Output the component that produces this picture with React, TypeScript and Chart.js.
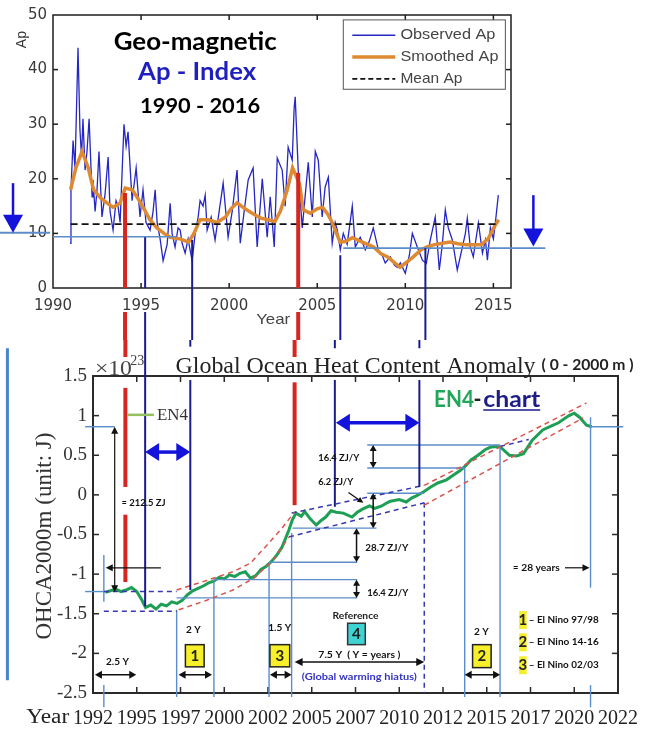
import React, { useEffect, useRef } from "react";
import { Chart, registerables } from "chart.js";
Chart.register(...registerables);

// ---------------- Top chart: geomagnetic Ap index ----------------
const AP_YEARS = [
  1990.97, 1991.02, 1991.14, 1991.25, 1991.42, 1991.53, 1991.62, 1991.7, 1991.82, 1991.93,
  1992.05, 1992.22, 1992.27, 1992.39, 1992.5, 1992.61, 1992.78, 1992.95,
  1993.13, 1993.24, 1993.41, 1993.58, 1993.69, 1993.81, 1993.92,
  1994.03, 1994.15, 1994.26, 1994.49, 1994.72, 1994.94,
  1995.11, 1995.28, 1995.51, 1995.68, 1995.8, 1995.91,
  1996.08, 1996.25, 1996.48, 1996.65, 1996.76, 1996.93,
  1997.1, 1997.22, 1997.33, 1997.5, 1997.67, 1997.78, 1997.9,
  1998.07, 1998.24, 1998.35, 1998.52, 1998.64, 1998.75, 1998.98,
  1999.2, 1999.43, 1999.66, 1999.94,
  2000.17, 2000.45, 2000.63, 2000.85,
  2001.08, 2001.36, 2001.59, 2001.88,
  2002.16, 2002.33, 2002.56, 2002.73,
  2003.01, 2003.18, 2003.35, 2003.58, 2003.69, 2003.75, 2003.92,
  2004.15, 2004.32, 2004.49, 2004.72, 2004.89,
  2005.06, 2005.28, 2005.45, 2005.63, 2005.85,
  2006.02, 2006.14, 2006.31, 2006.48, 2006.7, 2006.99,
  2007.16, 2007.44, 2007.73, 2007.95,
  2008.18, 2008.47, 2008.69, 2008.86,
  2009.15, 2009.38, 2009.55, 2009.72,
  2010.0, 2010.23, 2010.4, 2010.68, 2010.97,
  2011.19, 2011.42, 2011.7, 2011.93,
  2012.1, 2012.27, 2012.44, 2012.67, 2012.95,
  2013.24, 2013.41, 2013.52, 2013.69, 2013.86,
  2014.15, 2014.38, 2014.55, 2014.66, 2014.83,
  2015.0, 2015.11, 2015.28,
];
const AP_VALUES = [
  8.2, 18, 27, 22, 44, 29, 24, 31, 21.6, 25,
  31, 16.7, 19.8, 14, 18, 25, 13, 17,
  24, 14, 10.6, 16, 15, 12, 21,
  30, 26, 28.6, 16, 22, 13,
  18, 12, 10.6, 14, 18, 12,
  9, 5, 8, 15.5, 10, 7.5,
  11, 10.6, 8.2, 6.4, 9, 7, 5,
  10, 13, 16, 15, 17, 10.6, 13,
  8.8, 14, 19.2, 9.3,
  14, 21.6, 8.2, 14,
  19.8, 22, 7.5, 20,
  9.3, 16.7, 7.5, 23.8,
  21.6, 15, 25.8, 23.4, 33, 35, 21.6,
  11, 17, 23, 13, 25,
  23.4, 13, 18.5, 20.3, 8.2,
  12, 10.6, 7, 10, 8, 15,
  7.5, 9.3, 7, 8.5,
  11, 7, 6, 4.6,
  5.7, 4.2, 3.8, 4.6,
  2.7, 6, 10, 7.5, 5.1,
  4.5, 8.8, 13, 3.3,
  8, 14.3, 11, 8.8, 3.3,
  7.5, 10, 12.8, 7.5, 5.7,
  11.9, 6.4, 8.8, 5.1, 11,
  9, 11.9, 17,
];
const SMOOTH_YEARS = [
  1991.0, 1991.3, 1991.65, 1992.0, 1992.3, 1992.7, 1993.1, 1993.4, 1993.8, 1994.1,
  1994.5, 1994.8, 1995.2, 1995.5, 1995.9, 1996.3, 1996.65, 1997.2, 1997.7, 1998.0,
  1998.35, 1998.8, 1999.3, 1999.8, 2000.1, 2000.45, 2000.9, 2001.4, 2001.8, 2002.2,
  2002.6, 2002.9, 2003.3, 2003.6, 2004.0, 2004.2, 2004.6, 2005.0, 2005.3, 2005.6,
  2005.85, 2006.3, 2006.6, 2007.0, 2007.5, 2008.2, 2008.6, 2009.0, 2009.4, 2009.7,
  2010.1, 2010.45, 2010.9, 2011.3, 2011.6, 2012.1, 2012.55, 2013.0, 2013.5, 2014.0,
  2014.3, 2014.7, 2015.1, 2015.3,
];
const SMOOTH_VALUES = [
  18, 22, 25, 22, 18, 16.5, 15.5, 14.8, 15.5, 18.3,
  18, 16.5, 14.3, 12.5, 11, 10, 9.3, 9, 8.4, 10,
  12.5, 12.5, 12, 13, 14.5, 15.6, 14.5, 13.5, 12.8, 12.5,
  12.2, 14, 18, 22, 19, 14.3, 13.7, 14.5, 14.8, 13.5,
  12, 8.4, 8.5, 9.2, 8.5, 7.5, 6.3, 5.7, 4.6, 3.8,
  4.8, 5.7, 7, 7.6, 7.9, 8.2, 8.4, 8.1, 7.9, 7.9,
  7.9, 9, 11.5, 12.5,
];
const MEAN_AP = 11.7;
const MEAN_SPAN = [1991.0, 2015.3];
const AP_X_TICKS = [1990, 1995, 2000, 2005, 2010, 2015];
const AP_Y_TICKS = [0, 10, 20, 30, 40, 50];

// ---------------- Bottom chart: EN4 ocean heat content ----------------
const EN4_YEARS = [
  1992.7, 1993.0, 1993.3, 1993.6, 1993.9, 1994.2, 1994.5, 1994.8, 1995.0, 1995.3,
  1995.6, 1995.9, 1996.2, 1996.5, 1996.8, 1997.1, 1997.4, 1997.7, 1998.0, 1998.3,
  1998.6, 1998.9, 1999.2, 1999.5, 1999.8, 2000.1, 2000.4, 2000.7, 2001.0, 2001.3,
  2001.6, 2001.9, 2002.2, 2002.5, 2002.8, 2003.0, 2003.2, 2003.4, 2003.6, 2003.9,
  2004.1, 2004.4, 2004.75, 2005.0, 2005.3, 2005.6, 2005.9, 2006.3, 2006.8, 2007.1,
  2007.4, 2007.8, 2008.1, 2008.5, 2008.8, 2009.0, 2009.5, 2009.9, 2010.2, 2010.5,
  2010.9, 2011.3, 2011.7, 2012.2, 2012.6, 2013.0, 2013.3, 2013.6, 2014.0, 2014.4,
  2014.7, 2015.0, 2015.3, 2015.8, 2016.2, 2016.6, 2017.1, 2017.7, 2018.2, 2018.6,
  2019.2, 2019.5, 2019.8, 2020.2, 2020.5,
];
const EN4_VALUES = [
  -1.23, -1.21, -1.19, -1.22, -1.2, -1.17, -1.22, -1.33, -1.42, -1.39,
  -1.44, -1.38, -1.4, -1.35, -1.37, -1.33, -1.26, -1.21, -1.18, -1.15,
  -1.11, -1.09, -1.04, -1.06, -1.01, -1.03, -0.99, -0.97, -1.05, -1.02,
  -0.94, -0.9, -0.84, -0.76, -0.66, -0.55, -0.44, -0.31, -0.23, -0.27,
  -0.21, -0.3, -0.38, -0.33, -0.28, -0.2, -0.22, -0.23, -0.28, -0.22,
  -0.18, -0.14, -0.17, -0.14, -0.1, -0.08, -0.06, -0.09, -0.04, -0.01,
  0.04, 0.1, 0.15, 0.19, 0.25, 0.31, 0.37, 0.44, 0.5, 0.57,
  0.6, 0.61, 0.6, 0.5, 0.49, 0.52, 0.69, 0.82, 0.87, 0.91,
  1.0, 1.03, 0.98, 0.88, 0.86,
];
const OHC_X_TICKS = [1992, 1994.5, 1997, 1999.5, 2002, 2004.5, 2007, 2009.5, 2012, 2014.5, 2017, 2019.5, 2022];
const OHC_X_LABELS = ["1992", "1995", "1997", "2000", "2002", "2005", "2007", "2010", "2012", "2015", "2017", "2020", "2022"];
const OHC_Y_TICKS = [1.5, 1, 0.5, 0, -0.5, -1, -1.5, -2, -2.5];

// ---------------- drawing helpers ----------------
type C = CanvasRenderingContext2D;

function path(ctx: C, pts: number[][], color: string, width: number, dash: number[] = []) {
  ctx.save();
  ctx.beginPath();
  ctx.strokeStyle = color;
  ctx.lineWidth = width;
  ctx.setLineDash(dash);
  pts.forEach((p, i) => (i ? ctx.lineTo(p[0], p[1]) : ctx.moveTo(p[0], p[1])));
  ctx.stroke();
  ctx.restore();
}
function head(ctx: C, x: number, y: number, ux: number, uy: number, len: number, half: number, color: string) {
  const bx = x - ux * len, by = y - uy * len;
  const px = -uy, py = ux;
  ctx.save();
  ctx.fillStyle = color;
  ctx.beginPath();
  ctx.moveTo(x, y);
  ctx.lineTo(bx + px * half, by + py * half);
  ctx.lineTo(bx - px * half, by - py * half);
  ctx.closePath();
  ctx.fill();
  ctx.restore();
}
function arrow(ctx: C, x1: number, y1: number, x2: number, y2: number, color: string, width: number, len: number, half: number, both: boolean) {
  const d = Math.hypot(x2 - x1, y2 - y1) || 1;
  const ux = (x2 - x1) / d, uy = (y2 - y1) / d;
  const sx = both ? x1 + ux * len * 0.7 : x1, sy = both ? y1 + uy * len * 0.7 : y1;
  path(ctx, [[sx, sy], [x2 - ux * len * 0.7, y2 - uy * len * 0.7]], color, width);
  head(ctx, x2, y2, ux, uy, len, half, color);
  if (both) head(ctx, x1, y1, -ux, -uy, len, half, color);
}
function text(ctx: C, s: string, x: number, y: number, font: string, color: string,
  align: CanvasTextAlign = "center", baseline: CanvasTextBaseline = "middle", width = 0, rot = 0) {
  ctx.save();
  ctx.font = font;
  ctx.fillStyle = color;
  ctx.textAlign = align;
  ctx.textBaseline = baseline;
  ctx.translate(x, y);
  if (rot) ctx.rotate(rot);
  if (width) {
    const m = ctx.measureText(s).width;
    if (m > 0) ctx.scale(width / m, 1);
  }
  ctx.fillText(s, 0, 0);
  ctx.restore();
}
function box(ctx: C, x1: number, y1: number, x2: number, y2: number, fill: string, stroke: string, lw: number) {
  ctx.save();
  ctx.fillStyle = fill;
  ctx.fillRect(x1, y1, x2 - x1, y2 - y1);
  if (stroke) {
    ctx.strokeStyle = stroke;
    ctx.lineWidth = lw;
    ctx.strokeRect(x1, y1, x2 - x1, y2 - y1);
  }
  ctx.restore();
}

const RED = "#d5261f";
const NAVY = "#1b1b8e";
const LB = "#5b8dca";
const BRIGHT = "#1313dc";
const SMALL = "bold 10px Lato";

// ---------------- top decorations ----------------
const apDecor = {
  id: "apDecor",
  afterDraw(chart: any) {
    const ctx: C = chart.ctx;
    const a = chart.chartArea;
    const sx = chart.scales.x, sy = chart.scales.y;
    const X = (v: number) => sx.getPixelForValue(v);
    const Y = (v: number) => sy.getPixelForValue(v);
    const H = chart.height;

    // frame & inward ticks
    ctx.save();
    ctx.strokeStyle = "#1e1e1e";
    ctx.lineWidth = 1.5;
    ctx.strokeRect(a.left, a.top, a.right - a.left, a.bottom - a.top);
    ctx.restore();
    AP_X_TICKS.forEach((v) => {
      if (v <= 1990) return;
      const x = X(v);
      path(ctx, [[x, a.bottom], [x, a.bottom - 5]], "#1e1e1e", 1.5);
      path(ctx, [[x, a.top], [x, a.top + 5]], "#1e1e1e", 1.5);
    });
    AP_Y_TICKS.forEach((v) => {
      if (v <= 0 || v >= 50) return;
      const y = Y(v);
      path(ctx, [[a.left, y], [a.left + 5, y]], "#1e1e1e", 1.5);
      path(ctx, [[a.right, y], [a.right - 5, y]], "#1e1e1e", 1.5);
    });

    // light blue reference lines
    path(ctx, [[X(1986.99), Y(10.1)], [X(1989.83), Y(10.1)]], LB, 2);
    path(ctx, [[X(1990), Y(9.4)], [X(1997.0), Y(9.4)]], LB, 1.6);
    path(ctx, [[X(2006.48), Y(7.3)], [X(2017.95), Y(7.3)]], LB, 1.6);

    // blue arrows outside the axes
    arrow(ctx, X(1987.73), Y(19.2), X(1987.73), Y(10.1), BRIGHT, 2.5, 18, 10, false);
    arrow(ctx, X(2017.27), Y(17.0), X(2017.27), Y(7.6), BRIGHT, 2.5, 18, 10, false);

    // vertical connectors
    const gap = a.bottom + 24;
    path(ctx, [[X(1994.09), Y(17.4)], [X(1994.09), a.bottom]], RED, 4);
    path(ctx, [[X(1994.09), gap], [X(1994.09), H]], RED, 4);
    path(ctx, [[X(1995.23), Y(9.3)], [X(1995.23), a.bottom]], NAVY, 2);
    path(ctx, [[X(1995.23), gap], [X(1995.23), H]], NAVY, 2);
    path(ctx, [[X(1997.9), Y(8.8)], [X(1997.9), H]], NAVY, 2);
    path(ctx, [[X(2003.92), Y(21.1)], [X(2003.92), a.bottom]], RED, 4);
    path(ctx, [[X(2003.92), gap], [X(2003.92), H]], RED, 4);
    path(ctx, [[X(2006.31), Y(6.0)], [X(2006.31), H]], NAVY, 2);
    path(ctx, [[X(2011.14), Y(7.3)], [X(2011.14), H]], NAVY, 2);

    // legend
    box(ctx, X(2006.48), Y(49.1), X(2015.68), Y(36.4), "#ffffff", "#555555", 1);
    path(ctx, [[X(2006.99), Y(46.3)], [X(2009.43), Y(46.3)]], "#2626c4", 1.6);
    path(ctx, [[X(2006.99), Y(42.3)], [X(2009.43), Y(42.3)]], "#de8a32", 3.5);
    path(ctx, [[X(2006.99), Y(38.3)], [X(2009.43), Y(38.3)]], "#111111", 1.6, [5, 3]);
    const lf = '15px "Liberation Sans"';
    text(ctx, "Observed Ap", X(2009.72), Y(46.3), lf, "#444", "left", "middle", 95);
    text(ctx, "Smoothed Ap", X(2009.72), Y(42.3), lf, "#444", "left", "middle", 98);
    text(ctx, "Mean Ap", X(2009.72), Y(38.3), lf, "#444", "left", "middle", 62);

    // titles
    text(ctx, "Geo-magnetic", X(1998.07), Y(45.05), "bold 24px Lato", "#000", "center", "middle", 163);
    text(ctx, "Ap - Index", X(1998.18), Y(39.6), "bold 24px Lato", "#1f1fbf", "center", "middle", 118);
    text(ctx, "1990 - 2016", X(1998.35), Y(33.3), "bold 21px Lato", "#000", "center", "middle", 120);

    // axis titles
    text(ctx, "Ap", a.left - 31, Y(45.5), '14px "Liberation Sans"', "#333", "center", "middle", 0, -Math.PI / 2);
    text(ctx, "Year", X(2002.5), a.bottom + 32, '15px "Liberation Sans"', "#444", "center", "middle", 34);
  },
};

// ---------------- bottom decorations ----------------
const ohcDecor = {
  id: "ohcDecor",
  afterDraw(chart: any) {
    const ctx: C = chart.ctx;
    const a = chart.chartArea;
    const sx = chart.scales.x, sy = chart.scales.y;
    const X = (v: number) => sx.getPixelForValue(v);
    const Y = (v: number) => sy.getPixelForValue(v);
    const P = (x: number, y: number) => [X(x), Y(y)];

    // frame & inward ticks
    ctx.save();
    ctx.strokeStyle = "#2a2a2a";
    ctx.lineWidth = 2;
    ctx.strokeRect(a.left, a.top, a.right - a.left, a.bottom - a.top);
    ctx.restore();
    OHC_X_TICKS.forEach((v) => {
      if (v <= 1992 || v >= 2022) return;
      const x = X(v);
      path(ctx, [[x, a.bottom], [x, a.bottom - 6]], "#2a2a2a", 1.5);
      path(ctx, [[x, a.top], [x, a.top + 6]], "#2a2a2a", 1.5);
    });
    OHC_Y_TICKS.forEach((v) => {
      if (v >= 1.5 || v <= -2.5) return;
      const y = Y(v);
      path(ctx, [[a.left, y], [a.left + 6, y]], "#2a2a2a", 1.5);
      path(ctx, [[a.right, y], [a.right - 6, y]], "#2a2a2a", 1.5);
    });

    // left steel-blue bar
    path(ctx, [P(1987.11, 1.85), P(1987.11, -2.34)], "#4a86c8", 3);

    // light blue helper lines
    const lbl: number[][][] = [
      [[1991.55, 0.86], [1993.24, 0.86]],
      [[2020.37, 0.86], [2022.3, 0.86]],
      [[2020.43, 0.98], [2020.43, -1.17]],
      [[2020.43, -2.4], [2020.43, -2.68]],
      [[1992.62, -0.76], [1992.62, -1.35]],
      [[1992.62, -2.4], [1992.62, -2.68]],
      [[1991.55, -1.22], [1992.62, -1.22]],
      [[1996.78, -1.45], [1996.78, -2.55]],
      [[1998.91, -1.07], [1998.91, -2.55]],
      [[2002.06, -0.86], [2002.06, -2.55]],
      [[2003.35, -0.48], [2003.35, -2.55]],
      [[2013.24, 0.34], [2013.24, -2.55]],
      [[2015.26, 0.63], [2015.26, -2.55]],
      [[1996.78, -1.3], [2007.1, -1.3]],
      [[1998.91, -1.07], [2007.1, -1.07]],
      [[2002.06, -0.85], [2007.1, -0.85]],
      [[2003.4, -0.42], [2008.2, -0.42]],
      [[2007.67, 0.02], [2010.93, 0.02]],
      [[2007.67, 0.34], [2013.24, 0.34]],
      [[2007.67, 0.63], [2015.26, 0.63]],
    ];
    lbl.forEach((s) => path(ctx, s.map((p) => P(p[0], p[1])), LB, 1.4));

    // dashed channels
    const BD = "#3838b0", RD = "#d9534f";
    const dash = [5, 4];
    path(ctx, [P(1992.62, -1.22), P(1996.78, -1.22)], BD, 1.5, dash);
    path(ctx, [P(1992.62, -1.47), P(1996.78, -1.47)], BD, 1.5, dash);
    path(ctx, [P(2003.35, -0.23), P(2010.93, 0.12)], BD, 1.5, dash);
    path(ctx, [P(2003.2, -0.53), P(2010.93, -0.1)], BD, 1.5, dash);
    path(ctx, [P(2010.93, -0.1), P(2010.93, -2.5)], BD, 1.5, dash);
    path(ctx, [P(2015.26, 0.61), P(2016.9, 0.7)], BD, 1.5, dash);
    path(ctx, [[1996.78, -1.2], [1998.5, -1.08], [2000, -0.97], [2001, -0.86], [2002, -0.62], [2002.8, -0.42], [2003.5, -0.22]].map((p) => P(p[0], p[1])), RD, 1.5, dash);
    path(ctx, [[1996.9, -1.45], [1998.5, -1.33], [2000, -1.2], [2001.2, -1.05], [2002.3, -0.82], [2003.2, -0.53]].map((p) => P(p[0], p[1])), RD, 1.5, dash);
    path(ctx, [P(2010.93, 0.12), P(2020.2, 1.16)], RD, 1.5, dash);
    path(ctx, [P(2010.93, -0.13), P(2020.0, 0.97)], RD, 1.5, dash);

    // vertical connectors from the top chart
    const vseg = (x: number, segs: number[][], color: string, w: number) =>
      segs.forEach((s) => path(ctx, [P(x, s[0]), P(x, s[1])], color, w));
    vseg(1993.85, [[1.96, 1.74], [1.35, 0.1], [-0.25, -1.1]], RED, 4);
    vseg(2003.52, [[1.96, 1.74], [1.42, -0.13]], RED, 4);
    vseg(1994.98, [[1.96, -1.41]], NAVY, 2);
    vseg(1997.56, [[1.96, 1.87], [1.45, -1.2]], NAVY, 2);
    vseg(2005.82, [[1.96, 1.85], [1.45, -0.15]], NAVY, 2);
    vseg(2010.65, [[1.96, 1.85], [1.45, 0.1]], NAVY, 2);

    // big blue double arrows
    arrow(ctx, X(1994.98), Y(0.54), X(1997.56), Y(0.54), BRIGHT, 3.5, 14, 9, true);
    arrow(ctx, X(2005.88), Y(0.91), X(2010.65), Y(0.91), BRIGHT, 3.5, 14, 9, true);

    // black measurement arrows
    const K = "#111";
    arrow(ctx, X(1993.24), Y(0.86), X(1993.24), Y(-1.23), K, 1.2, 7, 3.5, true);
    arrow(ctx, X(1995.88), Y(-0.92), X(1992.73), Y(-0.92), K, 1.2, 7, 3.5, false);
    arrow(ctx, X(2008.01), Y(0.63), X(2008.01), Y(0.34), K, 1.5, 6, 3.5, true);
    arrow(ctx, X(2008.01), Y(0.02), X(2008.01), Y(-0.42), K, 1.5, 6, 3.5, true);
    arrow(ctx, X(2007.06), Y(-0.42), X(2007.06), Y(-0.85), K, 1.5, 6, 3.5, true);
    arrow(ctx, X(2007.06), Y(-1.07), X(2007.06), Y(-1.3), K, 1.5, 6, 3.5, true);
    arrow(ctx, X(2006.6), Y(0.03), X(2007.45), Y(-0.1), K, 1.2, 6, 3, false);
    [[1992.11, 1994.47], [1996.89, 1998.8], [2002.11, 2003.35], [2013.24, 2015.26]].forEach((s) =>
      arrow(ctx, X(s[0]), Y(-2.27), X(s[1]), Y(-2.27), K, 1.5, 7, 4, true));
    arrow(ctx, X(2003.52), Y(-2.11), X(2010.93), Y(-2.11), K, 1.5, 8, 4, true);
    arrow(ctx, X(2018.97), Y(-0.92), X(2020.37), Y(-0.92), K, 1.2, 7, 3.5, false);

    // small annotation texts
    text(ctx, "\u2248 212.5 ZJ", X(1993.63), Y(-0.1), SMALL, "#111", "left", "middle", 44);
    text(ctx, "16.4 ZJ/Y", X(2004.87), Y(0.47), SMALL, "#111", "left", "middle", 41);
    text(ctx, "6.2 ZJ/Y", X(2004.87), Y(0.16), SMALL, "#111", "left", "middle", 35);
    text(ctx, "28.7 ZJ/Y", X(2007.56), Y(-0.67), SMALL, "#111", "left", "middle", 43);
    text(ctx, "16.4 ZJ/Y", X(2007.67), Y(-1.24), SMALL, "#111", "left", "middle", 41);
    text(ctx, "Reference", X(2007.0), Y(-1.52), SMALL, "#222", "center", "middle", 46);
    box(ctx, X(2006.55), Y(-1.62), X(2007.56), Y(-1.89), "#3fd3d3", "#333", 1.5);
    text(ctx, "4", X(2007.05), Y(-1.755), "bold 15px Lato", "#222");
    text(ctx, "7.5 Y  ( Y = years )", X(2007.22), Y(-2.02), SMALL, "#111", "center", "middle", 82);
    text(ctx, "(Global warming hiatus)", X(2007.22), Y(-2.3), SMALL, "#3333bb", "center", "middle", 115);
    text(ctx, "2 Y", X(1997.73), Y(-1.7), SMALL, "#111");
    box(ctx, X(1997.28), Y(-1.89), X(1998.35), Y(-2.17), "#f7ef2a", "#222", 1.5);
    text(ctx, "1", X(1997.815), Y(-2.03), "bold 15px Lato", "#222");
    text(ctx, "1.5 Y", X(2002.67), Y(-1.68), SMALL, "#111");
    box(ctx, X(2002.11), Y(-1.89), X(2003.24), Y(-2.17), "#f7ef2a", "#222", 1.5);
    text(ctx, "3", X(2002.675), Y(-2.03), "bold 15px Lato", "#222");
    text(ctx, "2.5 Y", X(1993.4), Y(-2.11), SMALL, "#111");
    text(ctx, "2 Y", X(2014.19), Y(-1.73), SMALL, "#111");
    box(ctx, X(2013.69), Y(-1.89), X(2014.75), Y(-2.18), "#f7ef2a", "#222", 1.5);
    text(ctx, "2", X(2014.22), Y(-2.035), "bold 15px Lato", "#222");
    text(ctx, "\u2248 28 years", X(2015.99), Y(-0.92), SMALL, "#111", "left", "middle", 47);

    // El Nino key
    const rows: [string, string, number][] = [
      ["1", "\u2013 El Nino 97/98", -1.58],
      ["2", "\u2013 El Nino 14-16", -1.86],
      ["3", "\u2013 El Nino 02/03", -2.15],
    ];
    rows.forEach(([d, t, v]) => {
      box(ctx, X(2016.35), Y(v) - 9, X(2016.78), Y(v) + 9, "#f7ef2a", "", 0);
      text(ctx, d, X(2016.56), Y(v), "bold 15px Lato", "#222");
      text(ctx, t, X(2016.9), Y(v), SMALL, "#111", "left", "middle", 70);
    });

    // EN4 legend and chart label
    path(ctx, [P(1993.97, 1.01), P(1995.48, 1.01)], "#95c060", 2.5);
    text(ctx, "EN4", X(1995.65), Y(1.0), '17px "Liberation Serif"', "#333", "left", "middle", 31);
    text(ctx, "EN4", X(2011.49), Y(1.11), "bold 22px Lato", "#22a65a", "left", "alphabetic", 40);
    text(ctx, "-", X(2013.74), Y(1.11), "bold 22px Lato", "#222", "left", "alphabetic", 8);
    text(ctx, "chart", X(2014.3), Y(1.11), "bold 22px Lato", "#1d1d8a", "left", "alphabetic", 57);
    path(ctx, [[X(2014.3), Y(1.11) + 3], [X(2014.3) + 57, Y(1.11) + 3]], "#1d1d8a", 1.5);

    // titles
    text(ctx, "Global Ocean Heat Content Anomaly", X(2007.0), Y(1.54), '24px "Liberation Serif"', "#222", "center", "alphabetic", 360);
    text(ctx, "( 0 - 2000 m )", X(2020.26), Y(1.64), "bold 15px Lato", "#222", "center", "middle", 92);
    text(ctx, "\u00d710", X(1992.11), Y(1.51), '20px "Liberation Serif"', "#444", "left", "alphabetic", 37);
    text(ctx, "23", X(1994.13), Y(1.64), '15px "Liberation Serif"', "#444", "left", "alphabetic", 14);
    text(ctx, "OHCA2000m (unit: J)", X(1989.25), Y(-0.52), '23px "Liberation Serif"', "#333", "center", "middle", 207, -Math.PI / 2);
    text(ctx, "Year", X(1988.18), Y(-2.815), '20px "Liberation Serif"', "#222", "left", "middle", 43);
  },
};

export default function App() {
  const topRef = useRef<HTMLCanvasElement>(null);
  const botRef = useRef<HTMLCanvasElement>(null);

  useEffect(() => {
    const top = new Chart(topRef.current as HTMLCanvasElement, {
      type: "line",
      data: {
        datasets: [
          {
            label: "Mean Ap",
            data: MEAN_SPAN.map((x) => ({ x, y: MEAN_AP })),
            borderColor: "#111111",
            borderWidth: 1.6,
            borderDash: [7, 4],
            pointRadius: 0,
          },
          {
            label: "Smoothed Ap",
            data: SMOOTH_YEARS.map((x, i) => ({ x, y: SMOOTH_VALUES[i] })),
            borderColor: "#de8a32",
            borderWidth: 3.5,
            pointRadius: 0,
          },
          {
            label: "Observed Ap",
            data: AP_YEARS.map((x, i) => ({ x, y: AP_VALUES[i] })),
            borderColor: "#2626c4",
            borderWidth: 1.3,
            pointRadius: 0,
          },
        ],
      },
      options: {
        responsive: false,
        maintainAspectRatio: false,
        animation: false,
        events: [],
        layout: { padding: { top: 15, right: 141, left: 0, bottom: 0 } },
        plugins: { legend: { display: false }, tooltip: { enabled: false } },
        scales: {
          x: {
            type: "linear",
            min: 1990,
            max: 2016,
            afterBuildTicks: (s: any) => { s.ticks = AP_X_TICKS.map((v) => ({ value: v })); },
            afterFit: (s: any) => { s.height = 52; },
            grid: { display: false, drawTicks: false },
            border: { display: false },
            ticks: {
              padding: 9,
              autoSkip: false,
              maxRotation: 0,
              color: "#3a3a3a",
              font: { family: "DejaVu Sans", size: 15 },
              callback: (v: any) => String(v),
            },
          },
          y: {
            type: "linear",
            min: 0,
            max: 50,
            afterBuildTicks: (s: any) => { s.ticks = AP_Y_TICKS.map((v) => ({ value: v })); },
            afterFit: (s: any) => { s.width = 53; },
            grid: { display: false, drawTicks: false },
            border: { display: false },
            ticks: {
              padding: 6,
              color: "#3a3a3a",
              font: { family: "DejaVu Sans", size: 15 },
              callback: (v: any) => String(v),
            },
          },
        },
      },
      plugins: [apDecor],
    } as any);

    const bottom = new Chart(botRef.current as HTMLCanvasElement, {
      type: "line",
      data: {
        datasets: [
          {
            label: "EN4",
            data: EN4_YEARS.map((x, i) => ({ x, y: EN4_VALUES[i] })),
            borderColor: "#1f9e55",
            borderWidth: 3,
            pointRadius: 0,
          },
        ],
      },
      options: {
        responsive: false,
        maintainAspectRatio: false,
        animation: false,
        events: [],
        layout: { padding: { top: 36, right: 25, left: 0, bottom: 0 } },
        plugins: { legend: { display: false }, tooltip: { enabled: false } },
        scales: {
          x: {
            type: "linear",
            min: 1992,
            max: 2022,
            afterBuildTicks: (s: any) => { s.ticks = OHC_X_TICKS.map((v) => ({ value: v })); },
            afterFit: (s: any) => { s.height = 38; },
            grid: { display: false, drawTicks: false },
            border: { display: false },
            ticks: {
              padding: 14,
              autoSkip: false,
              maxRotation: 0,
              color: "#222",
              font: { family: "Liberation Serif", size: 20 },
              callback: (_v: any, i: number) => OHC_X_LABELS[i],
            },
          },
          y: {
            type: "linear",
            min: -2.5,
            max: 1.5,
            afterBuildTicks: (s: any) => { s.ticks = OHC_Y_TICKS.map((v) => ({ value: v })); },
            afterFit: (s: any) => { s.width = 93; },
            grid: { display: false, drawTicks: false },
            border: { display: false },
            ticks: {
              padding: 6,
              color: "#333",
              font: { family: "Liberation Serif", size: 19 },
              callback: (v: any) => String(v),
            },
          },
        },
      },
      plugins: [ohcDecor],
    } as any);

    return () => {
      top.destroy();
      bottom.destroy();
    };
  }, []);

  return (
    <div style={{ position: "absolute", left: 0, top: 0, width: 652, height: 731, background: "#fff", overflow: "hidden" }}>
      <canvas ref={topRef} width={652} height={340} style={{ position: "absolute", left: 0, top: 0, width: 652, height: 340 }} />
      <canvas ref={botRef} width={652} height={391} style={{ position: "absolute", left: 0, top: 340, width: 652, height: 391 }} />
    </div>
  );
}
